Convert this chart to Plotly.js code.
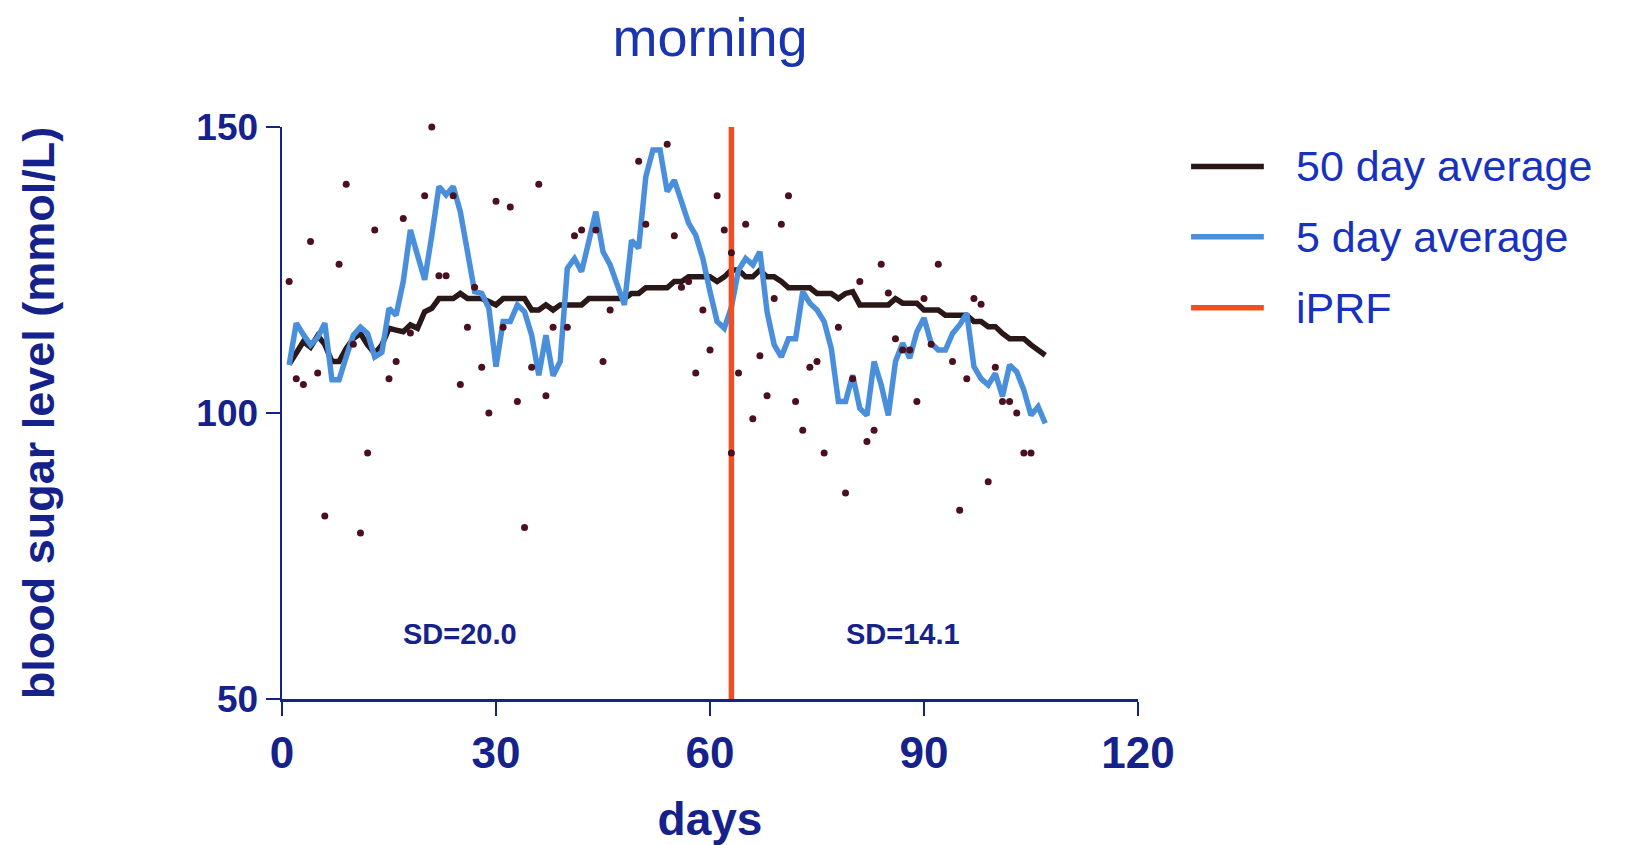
<!DOCTYPE html>
<html>
<head>
<meta charset="utf-8">
<script src="https://cdn.plot.ly/plotly-3.0.1.min.js"></script>
<style>html,body{margin:0;padding:0;background:#fff;}#chart{width:1632px;height:845px;}</style>
</head>
<body>
<div id="chart"></div>
<script>
const lineDays = [1,2,3,4,5,6,7,8,9,10,11,12,13,14,15,16,17,18,19,20,21,22,23,24,25,26,27,28,29,30,31,32,33,34,35,36,37,38,39,40,41,42,43,44,45,46,47,48,49,50,51,52,53,54,55,56,57,58,59,60,61,62,63,64,65,66,67,68,69,70,71,72,73,74,75,76,77,78,79,80,81,82,83,84,85,86,87,88,89,90,91,92,93,94,95,96,97,98,99,100,101,102,103,104,105,106,107];

const avg50 = [108.5,110.5,112.5,111.5,113.5,112,109,109,111.3,113,113.9,111.9,110.4,111.9,114.8,114.5,114.2,115.4,114.8,117.7,118.3,120,120,120,120.9,120,120,120,119.5,118.9,120,120,120,120,118,118,118.9,118,118.9,118.9,118.9,118.9,120,120,120,120,120,120,120.9,120.9,121.9,121.9,121.9,121.9,123,123,123.8,123.8,123.8,123.8,123,123.8,125,125,123.8,123.8,125,123.8,123.8,123,121.9,121.9,121.9,121.9,120.9,120.9,120.9,120,120.9,121.2,118.9,118.9,118.9,118.9,118.9,120,119.2,119.2,119.2,118,118,118,117.1,117.1,117.1,117.1,116,116,115.1,115.1,113.9,113,113,113,111.9,111,110.1];

const avg5 = [108.4,115.7,113.7,111.9,113.2,115.7,105.8,105.8,109.8,113.6,115,113.9,109.8,110.6,118.3,117.1,123,132,127.6,123.3,131,139.6,138.1,139.6,135.2,128.2,121.2,120.9,118.3,108.1,116,116,118.9,117.7,113.6,106.6,113.6,106.5,109,125.3,127,124.7,130,135.2,128.2,125.9,122.4,118.9,130.2,128.8,141.3,146,146,138.7,140.7,137,133.2,131.1,127,121.2,116,114.8,118.5,125,127,125.9,128.2,117.7,111.9,109.8,113,113,121.2,119.2,118,116,111.3,102,102,106.6,100.8,99.6,109,104.9,99.6,109,112.2,109.6,114.2,116.6,112.2,111,111,113.9,115.4,117.4,108.1,106,104.9,106.9,102.9,108.4,107.2,104,99.6,101.1,98.2];

const dotDays = [1,2,3,4,5,6,8,9,10,11,12,13,15,16,17,18,20,21,22,23,24,25,26,27,28,29,30,31,32,33,34,35,36,37,38,40,41,42,44,45,46,50,51,54,55,56,57,58,59,60,61,62,63,63,64,65,66,67,68,69,70,71,72,73,74,75,76,78,79,80,81,82,83,84,85,86,87,88,89,90,91,92,94,95,96,97,98,99,100,101,102,103,104,105];
const dotValues = [123,106,105,130,107,82,126,140,112,79,93,132,106,109,134,114,138,150,124,124,138,105,115,122,108,100,137,115,136,102,80,108,140,103,115,115,131,132,132,109,118,144,133,147,131,122,123,107,118,111,138,132,128,93,107,133,99,110,103,120,133,138,102,97,108,109,93,115,86,106,123,95,97,126,121,113,111,111,102,120,112,126,109,83,106,120,119,88,108,102,102,100,93,93];

const iprfDay = [63, 63];
const iprfRange = [50, 150];

const seriesNames = ['50 day average', '5 day average', 'iPRF'];
const seriesColors = ['#2a1718', '#4a8fdc', '#f04e23'];

const sdLabels = ['SD=20.0', 'SD=14.1'];
const sdX = [25, 87];
const sdY = [61.4, 61.4];

const xTicks = [0, 30, 60, 90, 120];
const yTicks = [50, 100, 150];

const navy = '#15228c';
const bold = {family: 'Liberation Sans, Arial, sans-serif', weight: 'bold', color: navy};
const narrowBold = {family: 'Liberation Sans Narrow, Liberation Sans, Arial, sans-serif', weight: 'bold', color: navy};

const traces = [
  {x: lineDays, y: avg50, mode: 'lines', name: seriesNames[0], line: {color: seriesColors[0], width: 5.5}, showlegend: false},
  {x: lineDays, y: avg5, mode: 'lines', name: seriesNames[1], line: {color: seriesColors[1], width: 5.5}, showlegend: false},
  {x: iprfDay, y: iprfRange, mode: 'lines', name: seriesNames[2], line: {color: seriesColors[2], width: 5.5}, showlegend: false},
  {x: dotDays, y: dotValues, mode: 'markers', name: 'daily', marker: {color: '#4a1020', size: 7}, showlegend: false, cliponaxis: false}
];

// manual legend (paper coordinates)
const legX0 = 1.062, legX1 = 1.147, legTextX = 1.182;
const legY = [0.931, 0.808, 0.684];
const shapes = [];
const annotations = [];
for (let i = 0; i < seriesNames.length; i++) {
  shapes.push({type: 'line', xref: 'paper', yref: 'paper', x0: legX0, x1: legX1, y0: legY[i], y1: legY[i], line: {color: seriesColors[i], width: 5.5}});
  annotations.push({xref: 'paper', yref: 'paper', x: legTextX, y: legY[i], xanchor: 'left', yanchor: 'middle', text: seriesNames[i], showarrow: false, font: {family: 'Liberation Sans, Arial, sans-serif', size: 43, color: '#1832c0'}});
}
for (let i = 0; i < sdLabels.length; i++) {
  annotations.push({xref: 'x', yref: 'y', x: sdX[i], y: sdY[i], text: sdLabels[i], showarrow: false, xanchor: 'center', yanchor: 'middle', font: Object.assign({size: 29}, narrowBold)});
}

const layout = {
  width: 1632, height: 845,
  margin: {l: 282, r: 494, t: 127, b: 146},
  paper_bgcolor: '#ffffff', plot_bgcolor: '#ffffff',
  showlegend: false,
  title: {text: 'morning', x: 0.5, xref: 'paper', xanchor: 'center', y: 0.956, yref: 'container', yanchor: 'middle', font: {family: 'Liberation Sans, Arial, sans-serif', size: 54, color: '#1a33b0'}},
  xaxis: {
    range: [0, 120], tickvals: xTicks, ticktext: xTicks.map(String),
    showline: true, linecolor: navy, linewidth: 2.5, ticks: 'outside', ticklen: 14, tickwidth: 2.5, tickcolor: navy,
    showgrid: false, zeroline: false, tickfont: Object.assign({size: 44}, narrowBold),
    title: {text: 'days', font: Object.assign({size: 46}, bold), standoff: 46}
  },
  yaxis: {
    range: [50, 150], tickvals: yTicks, ticktext: yTicks.map(String),
    showline: true, linecolor: navy, linewidth: 2.5, ticks: 'outside', ticklen: 14, tickwidth: 2.5, tickcolor: navy,
    showgrid: false, zeroline: false, tickfont: Object.assign({size: 37}, bold),
    title: {text: 'blood sugar level (mmol/L)', font: Object.assign({size: 45}, bold), standoff: 128}
  },
  shapes: shapes,
  annotations: annotations
};

Plotly.newPlot('chart', traces, layout, {displayModeBar: false, staticPlot: true});
</script>
</body>
</html>
